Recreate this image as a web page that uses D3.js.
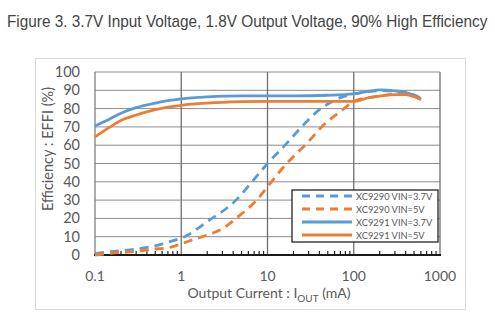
<!DOCTYPE html>
<html>
<head>
<meta charset="utf-8">
<script src="https://d3js.org/d3.v7.min.js"></script>
<style>
  body { margin: 0; background: #fff; }
  svg text { font-family: Lato, "Liberation Sans", sans-serif; }
</style>
</head>
<body>
<svg id="chart" width="495" height="323"></svg>
<script>
// efficiency curves (current in mA, efficiency in %)
const xc9290_37_i = [0.1, 0.15, 0.3, 0.5, 0.74, 1.06, 2, 4.4, 6.9, 10, 16.7, 26, 39, 50, 70, 100, 150, 200, 300, 400, 500, 600];
const xc9290_37_e = [0.8, 1.8, 3.2, 5, 7.3, 9.7, 18.2, 30.4, 41, 50, 61, 71, 79, 82.5, 86, 88, 89.3, 89.8, 89.5, 89, 87.5, 85.5];

const xc9290_5_i = [0.1, 0.15, 0.28, 0.47, 0.74, 1.26, 2, 2.8, 4.8, 7.5, 10, 16.7, 28.6, 44.6, 72.7, 100, 150, 200, 300, 400, 500, 600];
const xc9290_5_e = [0, 0.9, 1.8, 3.1, 4.2, 7.8, 10.9, 13.6, 21.8, 30, 37.3, 50, 61, 71, 79, 84, 86, 87, 87.8, 88, 87, 85];

const xc9291_37_i = [0.1, 0.15, 0.2, 0.3, 0.5, 0.7, 1, 2, 5, 10, 20, 50, 100, 150, 200, 300, 400, 500, 600];
const xc9291_37_e = [70.5, 74.5, 77.5, 80.5, 83, 84.3, 85.3, 86.4, 87, 87, 87, 87.3, 88, 89.5, 90.2, 89.7, 88.8, 87.3, 85.3];

const xc9291_5_i = [0.1, 0.15, 0.2, 0.3, 0.5, 1, 2, 5, 10, 50, 100, 150, 200, 300, 400, 500, 600];
const xc9291_5_e = [64.5, 70, 73.5, 76.5, 79.5, 81.8, 83, 83.8, 84, 84, 84, 86, 86.8, 87.6, 87.6, 86.5, 85];

const seriesNames = ['XC9290 VIN=3.7V', 'XC9290 VIN=5V', 'XC9291 VIN=3.7V', 'XC9291 VIN=5V'];
const xTicks = [0.1, 1, 10, 100, 1000];
const yTicks = [0, 10, 20, 30, 40, 50, 60, 70, 80, 90, 100];

const blue = '#5b9bd5', orange = '#ed7d31';
const series = [
  { name: seriesNames[0], i: xc9290_37_i, e: xc9290_37_e, color: blue, dash: '9,6' },
  { name: seriesNames[1], i: xc9290_5_i, e: xc9290_5_e, color: orange, dash: '9,6' },
  { name: seriesNames[2], i: xc9291_37_i, e: xc9291_37_e, color: blue, dash: null },
  { name: seriesNames[3], i: xc9291_5_i, e: xc9291_5_e, color: orange, dash: null },
];

const svg = d3.select('#chart');

// title: squeeze horizontally to the reference's width
const title = svg.append('text')
  .style('font-family', '"Liberation Sans", Arial, sans-serif')
  .style('font-size', '16px').attr('fill', '#444')
  .text('Figure 3. 3.7V Input Voltage, 1.8V Output Voltage, 90% High Efficiency');
const tw = title.node().getComputedTextLength();
title.attr('transform', `translate(7,27) scale(${Math.min(1, 481 / tw)},1)`);

// chart frame
svg.append('rect')
  .attr('x', 35.5).attr('y', 58.5).attr('width', 430).attr('height', 251)
  .attr('fill', 'none').attr('stroke', '#d9d9d9');

const x = d3.scaleLog().domain([0.1, 1000]).range([95, 440]);
const y = d3.scaleLinear().domain([0, 100]).range([255, 72]);

// horizontal grid
svg.append('g').selectAll('line').data(yTicks.slice(1)).join('line')
  .attr('x1', x(0.1)).attr('x2', x(1000))
  .attr('y1', d => y(d)).attr('y2', d => y(d))
  .attr('stroke', '#8c8c8c').attr('stroke-width', 1);

// decade lines
svg.append('g').selectAll('line').data(xTicks).join('line')
  .attr('x1', d => x(d)).attr('x2', d => x(d))
  .attr('y1', y(0)).attr('y2', y(100))
  .attr('stroke', d => d === 0.1 ? '#7f7f7f' : '#6e6e6e').attr('stroke-width', 1.3);

// minor ticks on the bottom axis
const minor = [];
for (let dec = 0.1; dec < 1000; dec *= 10) {
  for (let k = 2; k <= 9; k++) minor.push(+(dec * k).toPrecision(3));
}
svg.append('g').selectAll('line').data(minor).join('line')
  .attr('x1', d => x(d)).attr('x2', d => x(d))
  .attr('y1', y(0)).attr('y2', y(0) - 4)
  .attr('stroke', '#222').attr('stroke-width', 1.2);

svg.append('line')
  .attr('x1', x(0.1) - 1).attr('x2', x(1000) + 1)
  .attr('y1', y(0)).attr('y2', y(0))
  .attr('stroke', '#1a1a1a').attr('stroke-width', 2);

// tick labels
svg.append('g').selectAll('text').data(yTicks).join('text')
  .attr('x', 80).attr('y', d => y(d) + 5)
  .attr('text-anchor', 'end').attr('fill', '#595959')
  .style('font-size', '14.5px').text(d => d);

svg.append('g').selectAll('text').data(xTicks).join('text')
  .attr('x', d => x(d)).attr('y', 281)
  .attr('text-anchor', 'middle').attr('fill', '#595959')
  .style('font-size', '14px').text(d => d);

// axis titles
const xt = svg.append('text')
  .attr('x', 269).attr('y', 298).attr('text-anchor', 'middle')
  .attr('fill', '#595959').style('font-size', '14px');
xt.append('tspan').text('Output Current : I');
xt.append('tspan').attr('dy', 4).style('font-size', '10px').text('OUT');
xt.append('tspan').attr('dy', -4).text(' (mA)');

svg.append('text')
  .attr('transform', 'translate(53,149) rotate(-90)')
  .attr('text-anchor', 'middle').attr('fill', '#595959')
  .style('font-size', '14.5px').text('Efficiency : EFFI (%)');

// curves
const line = d3.line().curve(d3.curveMonotoneX);
svg.append('g').selectAll('path').data(series).join('path')
  .attr('d', s => line(s.i.map((v, k) => [x(v), y(s.e[k])])))
  .attr('fill', 'none').attr('stroke', s => s.color)
  .attr('stroke-width', 2.8).attr('stroke-dasharray', s => s.dash);

// legend
const lg = svg.append('g');
lg.append('rect')
  .attr('x', 292).attr('y', 190).attr('width', 146).attr('height', 52)
  .attr('fill', '#fff').attr('stroke', '#222').attr('stroke-width', 1.3);
const row = lg.selectAll('g').data(series).join('g')
  .attr('transform', (d, k) => `translate(0,${196 + k * 13})`);
row.append('line')
  .attr('x1', 302).attr('x2', 352)
  .attr('stroke', d => d.color).attr('stroke-width', 2.8)
  .attr('stroke-dasharray', d => d.dash ? '8,6' : null);
row.append('text')
  .attr('x', 356).attr('y', 3.5).attr('fill', '#595959')
  .style('font-size', '9.3px').text(d => d.name);
</script>
</body>
</html>
